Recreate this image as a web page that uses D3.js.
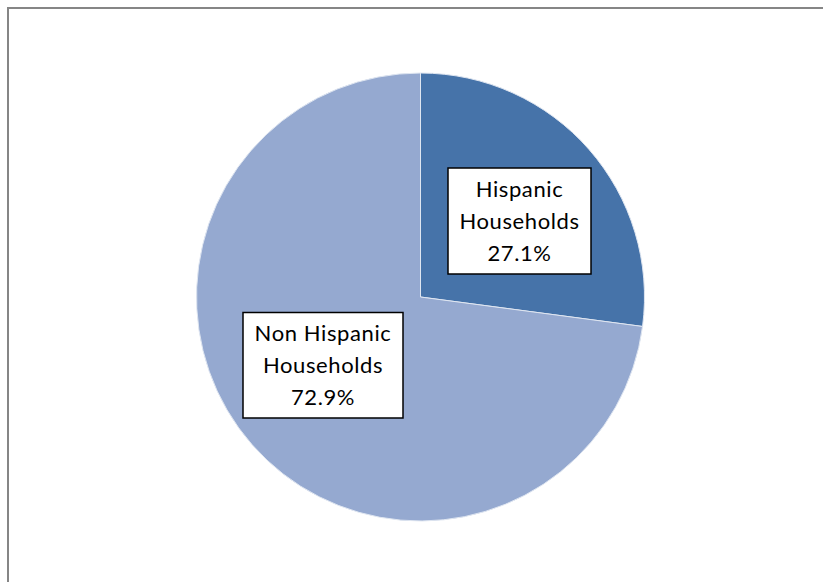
<!DOCTYPE html>
<html><head><meta charset="utf-8">
<script src="https://cdn.jsdelivr.net/npm/d3@7"></script>
<style>body{margin:0;background:#fff}svg{display:block}</style>
</head><body>
<svg id="c" width="823" height="582"></svg>
<script>
const categories = ["Hispanic Households", "Non Hispanic Households"];
const labelLines = [["Hispanic", "Households"], ["Non Hispanic", "Households"]];
const values = [27.1, 72.9];
const colors = ["#4673A9", "#95A9D0"];

const svg = d3.select("#c");
// chart area border (extends beyond the window on right/bottom)
svg.append("rect").attr("x", 8).attr("y", 8).attr("width", 830).attr("height", 600)
  .attr("fill", "#fff").attr("stroke", "#868686").attr("stroke-width", 2);

const cx = 420.5, cy = 297, r = 224;
const pie = d3.pie().sort(null).value(d => d)(values);
const arc = d3.arc().innerRadius(0).outerRadius(r);
const g = svg.append("g").attr("transform", `translate(${cx},${cy})`);
g.selectAll("path").data(pie).join("path")
  .attr("d", arc).attr("fill", (d, i) => colors[i])
  .attr("stroke", "#dfe6f1").attr("stroke-width", 1);

// label boxes
const boxes = [
  {x: 448, y: 168, w: 143, h: 106},
  {x: 243, y: 312.5, w: 160, h: 105.5}
];
const fmt = d3.format(".1f");
boxes.forEach((b, i) => {
  const lg = svg.append("g");
  lg.append("rect").attr("x", b.x).attr("y", b.y).attr("width", b.w).attr("height", b.h)
    .attr("fill", "#fff").attr("stroke", "#000").attr("stroke-width", 1.5);
  const lines = labelLines[i].concat([fmt(values[i]) + "%"]);
  const mid = b.y + b.h / 2 + 8;
  lines.forEach((t, j) => {
    lg.append("text").attr("x", b.x + b.w / 2).attr("y", mid + (j - 1) * 32)
      .attr("text-anchor", "middle")
      .attr("font-family", "Lato, 'Open Sans', sans-serif").attr("font-size", 22)
      .attr("letter-spacing", 0.6)
      .attr("fill", "#000").text(t);
  });
});
</script>
</body></html>
